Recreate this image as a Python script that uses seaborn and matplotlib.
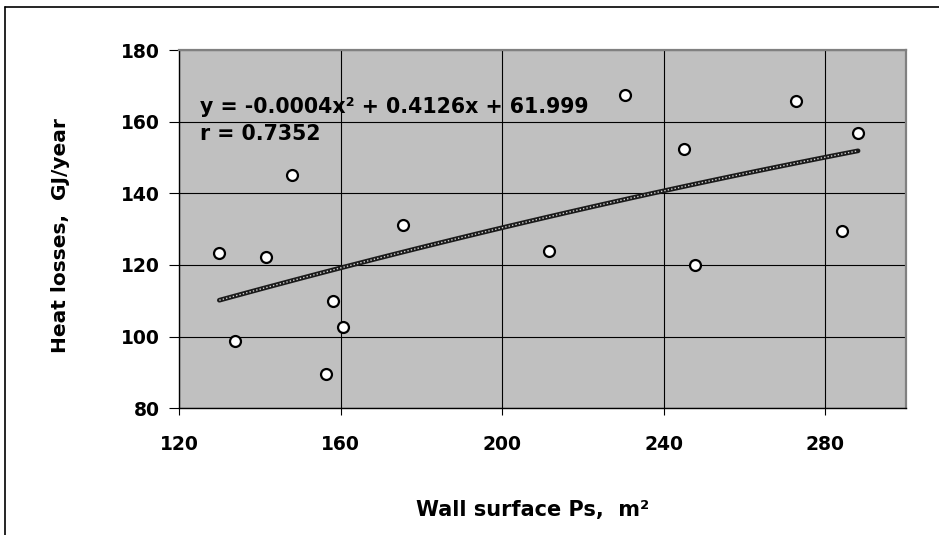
import matplotlib
matplotlib.use("Agg")
import matplotlib.pyplot as plt
from matplotlib.lines import Line2D
import seaborn as sns
import pandas as pd

# Data
wall_surface = [129.9, 133.9, 141.4, 147.8, 156.2, 158.1, 160.6, 175.5,
                211.5, 230.3, 245.1, 247.6, 272.8, 284.2, 288.1]
heat_losses = [123.4, 98.7, 122.2, 145.1, 89.7, 109.9, 102.6, 131.1,
               123.9, 167.4, 152.3, 119.9, 165.8, 129.4, 156.8]
x_ticks = [120, 160, 200, 240, 280]
y_ticks = [80, 100, 120, 140, 160, 180]
equation_text = "y = -0.0004x² + 0.4126x + 61.999"
r_text = "r = 0.7352"
x_label = "Wall surface Ps,  m²"
y_label = "Heat losses,  GJ/year"

df = pd.DataFrame({"x": wall_surface, "y": heat_losses})

sns.set_theme(style="white")
plt.rcParams["font.family"] = ["DejaVu Sans"]
plt.rcParams["font.weight"] = "bold"
for k in ["text.color", "axes.labelcolor", "xtick.color", "ytick.color"]:
    plt.rcParams[k] = "black"

fig = plt.figure(figsize=(9.39, 5.35), dpi=100)
ax = fig.add_axes([0.191, 0.2368, 0.774, 0.6697])
ax.set_facecolor("#C0C0C0")

# quadratic trend line (speckled look: dark line with light dots)
sns.regplot(data=df, x="x", y="y", order=2, ci=None, scatter=False, ax=ax,
            line_kws=dict(color="#1a1a1a", lw=3.4, zorder=2))
sns.regplot(data=df, x="x", y="y", order=2, ci=None, scatter=False, ax=ax,
            line_kws=dict(color="#d0d0d0", lw=1.0, ls=(0, (1, 1.5)), zorder=2.1))

sns.scatterplot(data=df, x="x", y="y", ax=ax, s=62, color="white",
                edgecolor="black", linewidth=1.6, zorder=3)

ax.set_xlim(120, 300)
ax.set_ylim(80, 180)
ax.set_xticks(x_ticks)
ax.set_yticks(y_ticks)
ax.grid(True, color="black", lw=0.8)
ax.set_axisbelow(True)

for s in ["top", "right"]:
    ax.spines[s].set_color("#808080")
    ax.spines[s].set_linewidth(1.6)
for s in ["left", "bottom"]:
    ax.spines[s].set_color("black")
    ax.spines[s].set_linewidth(1.0)

ax.tick_params(axis="x", direction="out", length=5, width=0.8, color="black",
               pad=14, labelsize=13.5, labelcolor="black")
ax.tick_params(axis="y", direction="out", length=7, width=0.8, color="black",
               pad=7, labelsize=13.5, labelcolor="black")
ax.tick_params(bottom=True, left=True)
for lab in ax.get_xticklabels() + ax.get_yticklabels():
    lab.set_fontweight("bold")

ax.set_xlabel(x_label, fontsize=15, fontweight="bold", color="black")
ax.set_ylabel(y_label, fontsize=14.5, fontweight="bold", color="black")
ax.xaxis.set_label_coords(0.486, -0.284)
ax.xaxis.label.set_verticalalignment("center")
ax.yaxis.set_label_coords(-0.163, 0.483)
ax.yaxis.label.set_verticalalignment("center")

ax.text(0.0285, 0.824, equation_text, transform=ax.transAxes, fontsize=14.8,
        fontweight="bold", va="baseline", ha="left", color="black")
ax.text(0.0285, 0.7487, r_text, transform=ax.transAxes, fontsize=14.8,
        fontweight="bold", va="baseline", ha="left", color="black")

# outer chart frame (left and top edges visible)
fig.add_artist(Line2D([5 / 939, 5 / 939], [0, 1 - 7 / 535], transform=fig.transFigure,
                      color="black", lw=1.2))
fig.add_artist(Line2D([5 / 939, 1], [1 - 7 / 535, 1 - 7 / 535], transform=fig.transFigure,
                      color="black", lw=1.2))

fig.savefig("out.png", dpi=100, facecolor="white")
